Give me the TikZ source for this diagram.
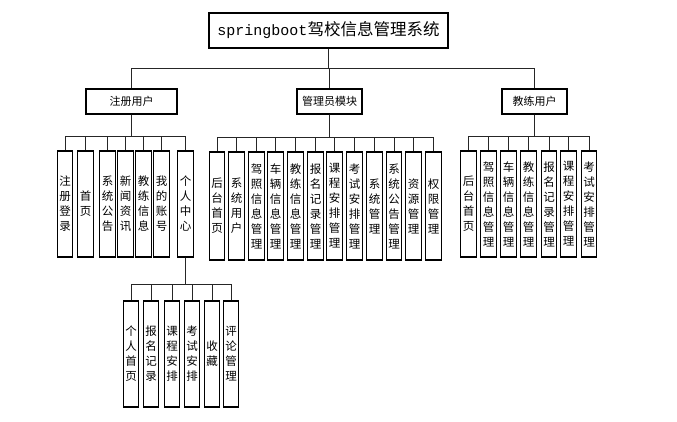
\documentclass[tikz,border=0pt]{standalone}
\usepackage{fontspec}
\newfontfamily\cjk{Noto Sans CJK SC}
\newfontfamily\latmono{Liberation Mono}
\tikzset{
  box/.style={draw=black, line width=1.2pt, fill=white, inner sep=0pt},
  topbox/.style={box, minimum width=239pt, minimum height=35pt},
  midbox/.style={box, minimum height=25pt, font=\cjk\fontsize{11}{13}\selectfont},
  leaf/.style={box, minimum width=15.5pt, minimum height=106pt, align=center, font=\cjk\fontsize{11.5}{15}\selectfont},
  conn/.style={draw=black!85, line width=1pt},
}
\begin{document}
\begin{tikzpicture}[x=1pt,y=-1pt]
\path[use as bounding box, fill=white] (0,0) rectangle (677,421);
% root
\node[topbox] (root) at (328.5,30.5) {{\latmono\fontsize{15}{18}\selectfont springboot}{\cjk\fontsize{16.5}{20}\selectfont 驾校信息管理系统}};
% level 1
\node[midbox, minimum width=91pt] (reg) at (131.5,101.5) {注册用户};
\node[midbox, minimum width=65pt] (adm) at (329.5,101.5) {管理员模块};
\node[midbox, minimum width=65pt] (coa) at (534.5,101.5) {教练用户};
\foreach \n in {reg,adm,coa}
  \draw[conn] (root.south) -- ++(0,20) -| (\n.north);
% registered user children
\foreach \i/\x/\t in {1/65/注\\册\\登\\录, 2/85.5/首\\页, 3/107.5/系\\统\\公\\告, 4/125.5/新\\闻\\资\\讯, 5/143.5/教\\练\\信\\息, 6/161.5/我\\的\\账\\号, 7/185.5/个\\人\\中\\心}{
  \node[leaf] (r\i) at (\x,204) {\t};
  \draw[conn] (reg.south) -- ++(0,22) -| (r\i.north);
}
% admin children
\foreach \i/\x/\t in {1/217/后\\台\\首\\页, 2/236.5/系\\统\\用\\户, 3/256.5/驾\\照\\信\\息\\管\\理, 4/275.5/车\\辆\\信\\息\\管\\理, 5/295.5/教\\练\\信\\息\\管\\理, 6/315.5/报\\名\\记\\录\\管\\理, 7/334.5/课\\程\\安\\排\\管\\理, 8/354.5/考\\试\\安\\排\\管\\理, 9/374.5/系\\统\\管\\理, 10/394/系\\统\\公\\告\\管\\理, 11/413.5/资\\源\\管\\理, 12/433.5/权\\限\\管\\理}{
  \node[leaf, minimum height=108pt] (a\i) at (\x,206) {\t};
  \draw[conn] (adm.south) -- ++(0,23) -| (a\i.north);
}
% coach children
\foreach \i/\x/\t in {1/468.5/后\\台\\首\\页, 2/488.5/驾\\照\\信\\息\\管\\理, 3/508.5/车\\辆\\信\\息\\管\\理, 4/528.5/教\\练\\信\\息\\管\\理, 5/549/报\\名\\记\\录\\管\\理, 6/568.5/课\\程\\安\\排\\管\\理, 7/589/考\\试\\安\\排\\管\\理}{
  \node[leaf] (c\i) at (\x,204) {\t};
  \draw[conn] (coa.south) -- ++(0,22) -| (c\i.north);
}
% personal centre children
\foreach \i/\x/\t in {1/131/个\\人\\首\\页, 2/151/报\\名\\记\\录, 3/172/课\\程\\安\\排, 4/192/考\\试\\安\\排, 5/212/收\\藏, 6/231/评\\论\\管\\理}{
  \node[leaf] (p\i) at (\x,354) {\t};
  \draw[conn] (r7.south) -- ++(0,27) -| (p\i.north);
}
\end{tikzpicture}
\end{document}
